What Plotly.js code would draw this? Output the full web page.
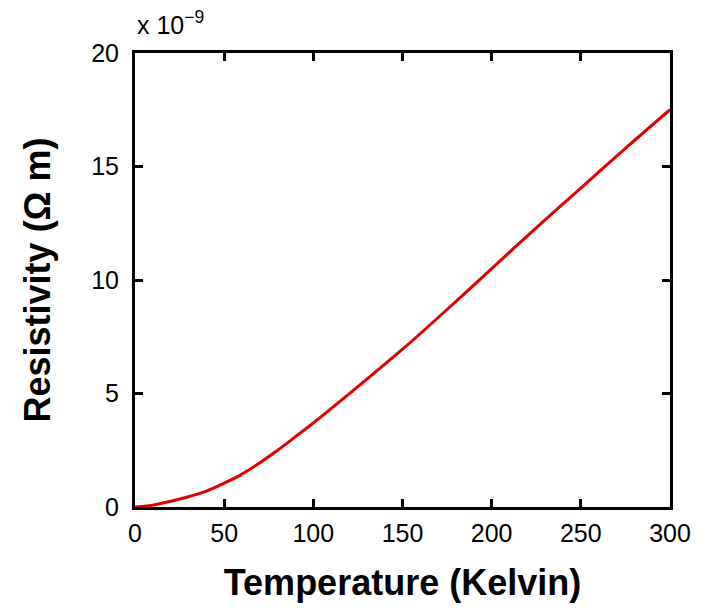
<!DOCTYPE html>
<html>
<head>
<meta charset="utf-8">
<script src="https://cdn.plot.ly/plotly-3.0.1.min.js"></script>
<style>html,body{margin:0;padding:0;background:#fff;}#chart{width:708px;height:608px;}</style>
</head>
<body>
<div id="chart"></div>
<script>
const temperature = [0, 5, 10, 20, 30, 40, 50, 60, 70, 80, 90, 100, 125, 150, 175, 200, 225, 250, 275, 300];
const resistivity = [0.0, 0.03, 0.08, 0.25, 0.45, 0.7, 1.05, 1.45, 1.95, 2.5, 3.1, 3.7, 5.3, 6.95, 8.7, 10.5, 12.3, 14.05, 15.8, 17.5];
const xTicks = [0, 50, 100, 150, 200, 250, 300];
const yTicks = [0, 5, 10, 15, 20];

const FONT = 'Liberation Sans, Arial, Helvetica, sans-serif';

const trace = {
  x: temperature,
  y: resistivity,
  type: 'scatter',
  mode: 'lines',
  line: {color: '#e00000', width: 3, shape: 'spline', smoothing: 0.8},
  showlegend: false
};

const axisCommon = {
  showline: true, linecolor: '#000', linewidth: 3, mirror: 'ticks',
  ticks: 'inside', ticklen: 8, tickwidth: 3, tickcolor: '#000',
  showgrid: false, zeroline: false,
  tickfont: {family: FONT, size: 25, color: '#000'}
};

const layout = {
  width: 708, height: 608,
  margin: {l: 135, r: 38, t: 53, b: 101},
  paper_bgcolor: '#fff', plot_bgcolor: '#fff',
  xaxis: Object.assign({}, axisCommon, {
    range: [0, 300], tickvals: xTicks, ticktext: xTicks.map(String),
    ticklabelstandoff: 2,
    title: {text: '<b>Temperature (Kelvin)</b>', font: {family: FONT, size: 36, color: '#000'}, standoff: 24}
  }),
  yaxis: Object.assign({}, axisCommon, {
    range: [0, 20], tickvals: yTicks, ticktext: yTicks.map(String),
    ticklabelstandoff: 8,
    title: {text: '<b>Resistivity (Ω m)</b>', font: {family: FONT, size: 36, color: '#000'}, standoff: 30}
  }),
  annotations: [{
    xref: 'paper', yref: 'paper', x: 0, y: 1, xanchor: 'left', yanchor: 'bottom',
    yshift: 12, xshift: 0,
    text: 'x 10<sup>−9</sup>', showarrow: false,
    font: {family: FONT, size: 25, color: '#000'}
  }]
};

Plotly.newPlot('chart', [trace], layout, {displayModeBar: false, staticPlot: true});
</script>
</body>
</html>
